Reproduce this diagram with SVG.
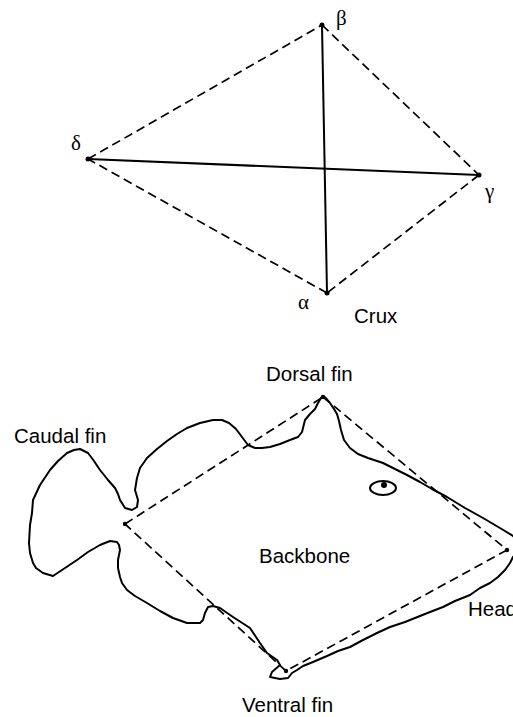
<svg xmlns="http://www.w3.org/2000/svg" width="513" height="717" viewBox="0 0 513 717">
<style>
.dash{fill:none;stroke:#000;stroke-width:1.7;stroke-dasharray:9 5}
.solid{fill:none;stroke:#000;stroke-width:2}
.outline{fill:none;stroke:#000;stroke-width:2;stroke-linejoin:round;stroke-linecap:round}
.dot{fill:#000}
.greek{font-family:"Liberation Serif","DejaVu Serif",serif;font-size:21px;fill:#000}
.lbl{font-family:"Liberation Sans",Arial,sans-serif;font-size:20.5px;fill:#000}
</style>
<rect width="513" height="717" fill="#fff"/>
<g id="connectors">
<line class="dash" x1="88" y1="159" x2="322" y2="25"/>
<line class="dash" x1="322" y1="25" x2="479" y2="175"/>
<line class="dash" x1="479" y1="175" x2="327" y2="293"/>
<line class="dash" x1="327" y1="293" x2="88" y2="159"/>
<line class="solid" x1="322" y1="25" x2="327" y2="293"/>
<line class="solid" x1="88" y1="159" x2="479" y2="175"/>
<line class="dash" x1="125" y1="524" x2="323" y2="397"/>
<line class="dash" x1="323" y1="397" x2="507" y2="550"/>
<line class="dash" x1="507" y1="550" x2="286" y2="671"/>
<line class="dash" x1="286" y1="671" x2="125" y2="524"/>
</g>
<g id="node-beta"><circle class="dot" cx="322" cy="25" r="2.5"/><text class="greek" x="336" y="25">β</text></g>
<g id="node-delta"><circle class="dot" cx="88" cy="159" r="2.5"/><text class="greek" x="71" y="150">δ</text></g>
<g id="node-gamma"><circle class="dot" cx="479" cy="175" r="2.5"/><text class="greek" x="485" y="198">γ</text></g>
<g id="node-alpha"><circle class="dot" cx="327" cy="293" r="2.5"/><text class="greek" x="298" y="309">α</text></g>
<g id="label-crux"><text class="lbl" x="354" y="323">Crux</text></g>
<g id="fish">
<path class="outline" d="M137,507 L138,500 L135,490 L137,478 L140,468 L147,458 L157,449 L167,441 L177,434 L187,428 L200,423 L213,420 L222,420 L229,423 L236,429 L242,437 L248,445 L255,448 L262,448 L270,447 L280,444 L290,440 L298,437 L302,432 L305,420 L310,414 L315,409 L318,403 L321,398 L323,396 L326,398 L330,403 L334,409 L337,414 L339,421 L341,430 L344,440 L350,448 L358,454 L368,458 L383,463 L395,469 L407,475 L420,482 L432,489 L447,497 L465,508 L483,518 L500,528 L513,536 L522,545 L518,552 L513,557 L510,563 L505,570 L498,577 L490,583 L480,588 L470,595 L455,601 L443,607 L430,612 L420,616 L405,622 L390,627 L377,633 L363,640 L350,647 L338,651 L327,656 L313,662 L303,666 L297,670 L292,673 L288,678 L280,679 L270,677 L272,672 L280,665 L277,660 L267,653 L260,643 L250,628 L233,617 L220,608 L213,606 L208,607 L205,613 L203,620 L200,623 L187,623 L173,618 L160,611 L147,603 L135,596 L127,590 L122,583 L120,577 L118,568 L118,560 L120,550 L119,545 L117,542 L110,541 L100,545 L88,552 L77,560 L65,568 L53,576 L43,573 L36,568 L33,563 L30,553 L29,543 L30,525 L32,513 L33,500 L40,485 L50,470 L58,461 L67,453 L74,450 L80,449 L88,453 L94,461 L100,470 L108,480 L115,488 L118,494 L120,500 L125,508 L132,510 Z"/>
<ellipse class="outline" cx="383" cy="488" rx="13" ry="7"/>
<circle class="dot" cx="384" cy="485" r="3"/>
</g>
<g id="node-tail"><circle class="dot" cx="125" cy="524" r="2.2"/></g>
<g id="node-dorsal"><circle class="dot" cx="323" cy="397" r="2.2"/></g>
<g id="node-head"><circle class="dot" cx="507" cy="550" r="2.2"/></g>
<g id="node-ventral"><circle class="dot" cx="286" cy="671" r="2.2"/></g>
<g id="label-dorsal"><text class="lbl" x="266" y="381">Dorsal fin</text></g>
<g id="label-caudal"><text class="lbl" x="14" y="443">Caudal fin</text></g>
<g id="label-backbone"><text class="lbl" x="259" y="563">Backbone</text></g>
<g id="label-head"><text class="lbl" x="468" y="616">Head</text></g>
<g id="label-ventral"><text class="lbl" x="242" y="712">Ventral fin</text></g>
</svg>
